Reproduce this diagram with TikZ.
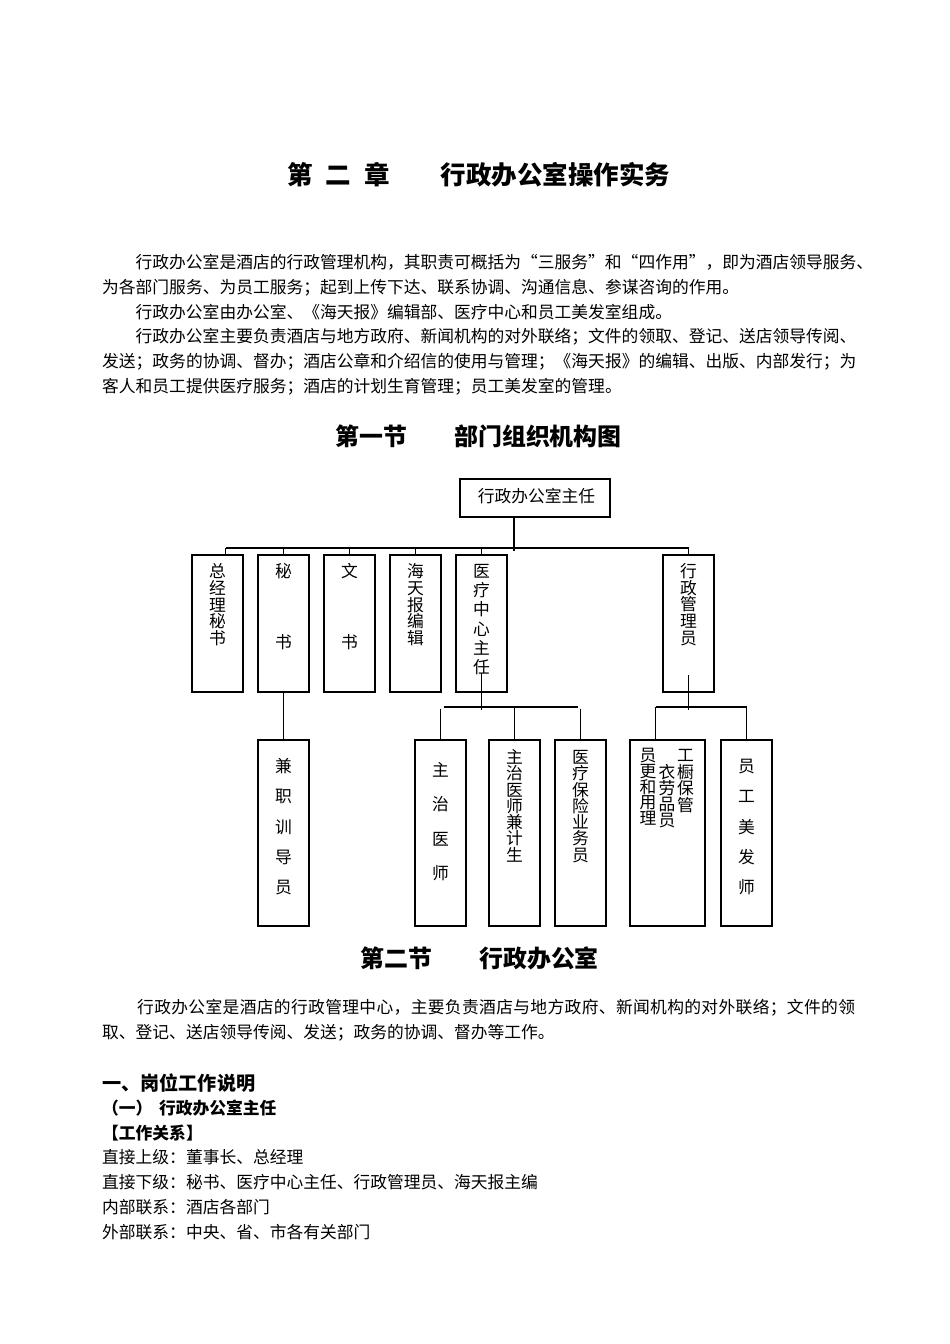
\documentclass[tikz,border=0pt]{standalone}
\usepackage{fontspec}
\setmainfont{Noto Sans CJK SC}
\newcommand\myfb{\fontsize{16.76}{20}\selectfont}
\newcommand\myfbb{\fontsize{16.76}{20}\selectfont\bfseries}
\newcommand\myft{\fontsize{25.5}{30}\selectfont\bfseries}
\newcommand\myfs{\fontsize{23.9}{28}\selectfont\bfseries}
\newcommand\myfh{\fontsize{19.15}{23}\selectfont\bfseries}
\newcommand\myvch[1]{\hbox to 1em{\vrule height .88em depth .12em width 0pt\hss#1\hss}}
\def\myvlist#1{\ifx#1\relax\else\myvch{#1}\expandafter\myvlist\fi}
\newcommand\vstk[2]{\vtop{\baselineskip=#1\lineskiplimit=-100pt\lineskip=0pt\myvlist#2\relax}}
\def\myhsp#1{\ifx#1\relax\else\hbox to \myhspwd{#1\hss}\expandafter\myhsp\fi}
\newcommand\spreadtext[2]{\def\myhspwd{#1}\myhsp#2\relax}
\begin{document}
\begin{tikzpicture}[x=1pt,y=-1pt,
  txt/.style={anchor=base west, inner sep=0pt, font=\myfb},
  box/.style={draw, line width=1.3pt, inner sep=0pt},
  conn/.style={line width=1.2pt},
  vt/.style={anchor=base, inner sep=0pt, font=\myfb}]
\path[use as bounding box, fill=white] (0,0) rectangle (950,1344);

% headings
\node[txt, font=\myft] (title) at (287,184.7) {第\hspace{13pt}二\hspace{13pt}章\hspace{51pt}行政办公室操作实务};

% paragraph 1
\node[txt] (p1) at (135.5,268.4) {行政办公室是酒店的行政管理机构，其职责可概括为“三服务”和“四作用”，即为酒店领导服务、};
\node[txt] (p2) at (102,293.2) {为各部门服务、为员工服务；起到上传下达、联系协调、沟通信息、参谋咨询的作用。};
\node[txt] (p3) at (135.5,318.0) {行政办公室由办公室、《海天报》编辑部、医疗中心和员工美发室组成。};
\node[txt] (p4) at (135.5,342.8) {行政办公室主要负责酒店与地方政府、新闻机构的对外联络；文件的领取、登记、送店领导传阅、};
\node[txt] (p5) at (102,367.6) {发送；政务的协调、督办；酒店公章和介绍信的使用与管理；《海天报》的编辑、出版、内部发行；为};
\node[txt] (p6) at (102,392.4) {客人和员工提供医疗服务；酒店的计划生育管理；员工美发室的管理。};

\node[txt, font=\myfs] (sec1) at (335,445) {第一节\hspace{47.5pt}部门组织机构图};

% org chart boxes
\node[box, minimum width=150pt, minimum height=38pt] (top) at (535,498) {};
\node[vt] (toptext) at (536.5,502.4) {行政办公室主任};

\node[box, minimum width=51pt, minimum height=137pt] (b1) at (217.5,623.5) {};
\node[box, minimum width=51pt, minimum height=137pt] (b2) at (283.5,623.5) {};
\node[box, minimum width=51pt, minimum height=137pt] (b3) at (349.5,623.5) {};
\node[box, minimum width=51pt, minimum height=137pt] (b4) at (415.5,623.5) {};
\node[box, minimum width=51pt, minimum height=137pt] (b5) at (481.5,623.5) {};
\node[box, minimum width=51pt, minimum height=137pt] (b6) at (688.5,623.5) {};

\node[vt] (t1) at (217.5,577.4) {\vstk{16.8pt}{总经理秘书}};
\node[vt] (t2) at (283.5,577.4) {\vstk{71pt}{秘书}};
\node[vt] (t3) at (349.5,577.4) {\vstk{71pt}{文书}};
\node[vt] (t4) at (415.5,577.4) {\vstk{16.8pt}{海天报编辑}};
\node[vt] (t5) at (481.5,577.4) {\vstk{19.2pt}{医疗中心主任}};
\node[vt] (t6) at (688.5,577.4) {\vstk{16.7pt}{行政管理员}};

\node[box, minimum width=51pt, minimum height=186pt] (c1) at (283.5,833) {};
\node[box, minimum width=51pt, minimum height=186pt] (c2) at (440.5,833) {};
\node[box, minimum width=51pt, minimum height=186pt] (c3) at (514.5,833) {};
\node[box, minimum width=51pt, minimum height=186pt] (c4) at (580.5,833) {};
\node[box, minimum width=75pt, minimum height=186pt] (c5) at (667.5,833) {};
\node[box, minimum width=51pt, minimum height=186pt] (c6) at (746.5,833) {};

\node[vt] (s1) at (283.5,772.4) {\vstk{30.3pt}{兼职训导员}};
\node[vt] (s2) at (440.5,776.4) {\vstk{34.4pt}{主治医师}};
\node[vt] (s3) at (514.5,763.4) {\vstk{16.3pt}{主治医师兼计生}};
\node[vt] (s4) at (580.5,763.4) {\vstk{16.3pt}{医疗保险业务员}};
\node[vt] (s5a) at (648,761.4) {\vstk{15.8pt}{员更和用理}};
\node[vt] (s5b) at (667,778.4) {\vstk{16pt}{衣劳品员}};
\node[vt] (s5c) at (685.5,761.4) {\vstk{16.7pt}{工橱保管}};
\node[vt] (s6) at (746.5,772.4) {\vstk{30.3pt}{员工美发师}};

% connectors
\coordinate (j0) at (514,550.5);
\coordinate (busL) at (225.5,548);
\coordinate (busR) at (688.5,548);
\draw[conn] (top.south -| j0) -- (j0);
\draw[conn] (busL) -- (busR);
\draw[conn] (busL) -- (busL |- b1.north);
\draw[conn] (b2.north |- busL) -- (b2.north);
\draw[conn] (b3.north |- busL) -- (b3.north);
\draw[conn] (b4.north |- busL) -- (b4.north);
\draw[conn] (b5.north |- busL) -- (b5.north);
\draw[conn] (busR) -- (b6.north);

\draw[conn] (b2.south) -- (c1.north);

\coordinate (m0) at (481.5,673);
\coordinate (m1) at (481.5,710);
\coordinate (mL) at (444,707);
\coordinate (mR) at (578,707);
\coordinate (mLd) at (440.5,708.5);
\coordinate (mRd) at (580.5,708.5);
\draw[conn] (m0) -- (m1);
\draw[conn] (mL) -- (mR);
\draw[conn] (mLd) -- (mLd |- c2.north);
\draw[conn] (c3.north |- mL) -- (c3.north);
\draw[conn] (mRd) -- (mRd |- c4.north);

\coordinate (a0) at (688.5,675);
\coordinate (a1) at (688.5,710);
\coordinate (aL) at (655.5,707);
\coordinate (aR) at (746.5,707);
\draw[conn] (a0) -- (a1);
\draw[conn] (aL) -- (aR);
\draw[conn] (aL) -- (aL |- c5.north);
\draw[conn] (aR) -- (c6.north);

% section 2
\node[txt, font=\myfs] (sec2) at (360,967) {第二节\hspace{47.5pt}行政办公室};
\node[txt] (q1) at (137,1013.4) {\spreadtext{17.1pt}{行政办公室是酒店的行政管理中心，主要负责酒店与地方政府、新闻机构的对外联络；文件的领}};
\node[txt] (q2) at (102,1038.4) {取、登记、送店领导传阅、发送；政务的协调、督办等工作。};

\node[txt, font=\myfh] (h1) at (102,1090.3) {一、岗位工作说明};
\node[txt, font=\myfbb] (h2) at (102,1114.4) {（一）\hspace{6.7pt}行政办公室主任};
\node[txt, font=\myfbb] (h3) at (102,1139.4) {【工作关系】};
\node[txt] (r1) at (102,1163.4) {直接上级：董事长、总经理};
\node[txt] (r2) at (102,1188.4) {直接下级：秘书、医疗中心主任、行政管理员、海天报主编};
\node[txt] (r3) at (102,1213.4) {内部联系：酒店各部门};
\node[txt] (r4) at (102,1238.4) {外部联系：中央、省、市各有关部门};
\end{tikzpicture}
\end{document}
